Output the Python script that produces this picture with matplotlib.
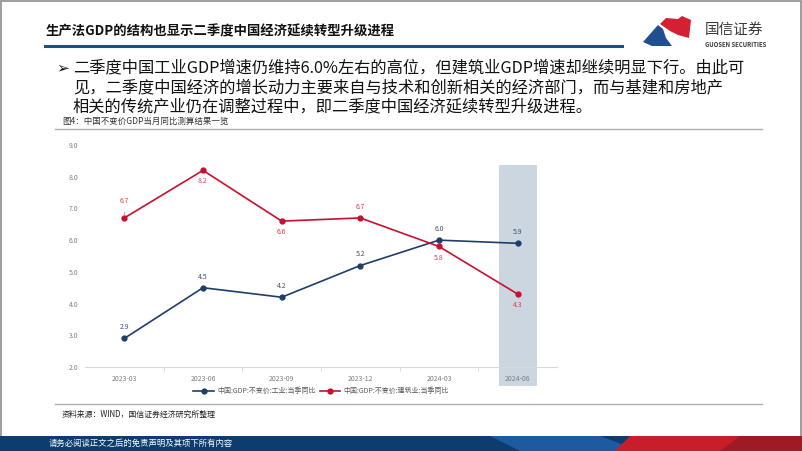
import matplotlib
matplotlib.use("Agg")
import matplotlib.pyplot as plt
from matplotlib.patches import Polygon, Rectangle
from matplotlib.lines import Line2D

plt.rcParams["font.family"] = ["Noto Sans CJK SC", "DejaVu Sans"]
plt.rcParams["axes.unicode_minus"] = False

W, H = 802, 451

periods = ["2023-03", "2023-06", "2023-09", "2023-12", "2024-03", "2024-06"]
industry = [2.9, 4.5, 4.2, 5.2, 6.0, 5.9]
construction = [6.7, 8.2, 6.6, 6.7, 5.8, 4.3]
# +1 label above the point, -1 below
construction_side = [1, -1, -1, 1, -1, -1]
yticks = [2.0, 3.0, 4.0, 5.0, 6.0, 7.0, 8.0, 9.0]

title = "生产法GDP的结构也显示二季度中国经济延续转型升级进程"
bullet_lines = [
    "二季度中国工业GDP增速仍维持6.0%左右的高位，但建筑业GDP增速却继续明显下行。由此可",
    "见，二季度中国经济的增长动力主要来自与技术和创新相关的经济部门，而与基建和房地产",
    "相关的传统产业仍在调整过程中，即二季度中国经济延续转型升级进程。",
]
caption = "图4：中国不变价GDP当月同比测算结果一览"
source = "资料来源：WIND，国信证券经济研究所整理"
footer = "请务必阅读正文之后的免责声明及其项下所有内容"
legend_labels = ["中国:GDP:不变价:工业:当季同比", "中国:GDP:不变价:建筑业:当季同比"]

BLUE = "#1f3d6b"
RED = "#c8102e"
NAVY = "#1f4e79"


def fx(x):
    return x / W


def fy(y):
    return 1 - y / H


fig = plt.figure(figsize=(W / 100, H / 100), dpi=100)
fig.patch.set_facecolor("white")

# page frame
fig.add_artist(Rectangle((0.001, 0.002), 0.998, 0.996, transform=fig.transFigure,
                         fill=False, edgecolor="#8c8c8c", linewidth=1.2))

# title + underline
fig.text(fx(46), fy(31), title, fontsize=9.6, weight="bold", color="#111111", va="center")
fig.add_artist(Line2D([fx(45), fx(622)], [fy(46), fy(46)], transform=fig.transFigure,
                      color=NAVY, linewidth=2.2))

# logo
blue_logo = [(643, 42), (658, 25), (663, 29), (666, 38), (672, 46), (652, 46)]
red_logo = [(660, 24), (666, 18), (678, 19), (682, 16), (691, 20), (689, 38), (678, 35), (670, 31)]
fig.add_artist(Polygon([(fx(a), fy(b)) for a, b in blue_logo], closed=True,
                       transform=fig.transFigure, facecolor="#1f4f8f", edgecolor="none"))
fig.add_artist(Polygon([(fx(a), fy(b)) for a, b in red_logo], closed=True,
                       transform=fig.transFigure, facecolor="#d42030", edgecolor="none"))
fig.text(fx(705), fy(30), "国信证券", fontsize=10.5, color="#3a3a3a", va="center")
fig.text(fx(705), fy(44.5), "GUOSEN SECURITIES", fontsize=4.3, weight="bold",
         color="#3a3a3a", va="center")

# bullet text
fig.text(fx(56), fy(68), "➢", fontsize=11, color="#111111", va="center",
         family=["DejaVu Sans"])
for i, line in enumerate(bullet_lines):
    fig.text(fx(73), fy(68 + 19.5 * i), line, fontsize=11.7, color="#111111", va="center")

# caption and rules
fig.text(fx(62), fy(121), caption, fontsize=6.1, color="#333333", va="center")
fig.add_artist(Line2D([fx(55), fx(762)], [fy(129), fy(129)], transform=fig.transFigure,
                      color="#b0b0b0", linewidth=1.0))
fig.add_artist(Line2D([fx(55), fx(762)], [fy(404), fy(404)], transform=fig.transFigure,
                      color="#b0b0b0", linewidth=1.0))
fig.text(fx(62), fy(414), source, fontsize=5.7, color="#222222", va="center")

# footer bar
fig.add_artist(Rectangle((0, 0), 1, fy(436), transform=fig.transFigure,
                         facecolor="#0d3c6e", edgecolor="none"))
stripe = [(490, 436), (600, 436), (640, 451), (520, 451)]
fig.add_artist(Polygon([(fx(a), fy(b)) for a, b in stripe], closed=True,
                       transform=fig.transFigure, facecolor="#1d5aa0", edgecolor="none"))
red_band = [(630, 436), (802, 436), (802, 451), (615, 451)]
fig.add_artist(Polygon([(fx(a), fy(b)) for a, b in red_band], closed=True,
                       transform=fig.transFigure, facecolor="#c81d2a", edgecolor="none"))
dark_red = [(740, 436), (802, 436), (802, 451), (720, 451)]
fig.add_artist(Polygon([(fx(a), fy(b)) for a, b in dark_red], closed=True,
                       transform=fig.transFigure, facecolor="#9e1a24", edgecolor="none"))
fig.text(fx(49), fy(443.5), footer, fontsize=6, color="white", va="center")

# chart
ax = fig.add_axes([fx(85), fy(367), (557 - 85) / W, (367 - 145) / H])
x = list(range(len(periods)))

ax.add_patch(Rectangle((4.76, 1.4), 0.48, 6.97, facecolor="#cbd6e1",
                       edgecolor="none", clip_on=False, zorder=0))

ax.plot(x, industry, color=BLUE, linewidth=1.2, marker="o", markersize=3.5,
        label=legend_labels[0], zorder=3)
ax.plot(x, construction, color=RED, linewidth=1.2, marker="o", markersize=3.5,
        label=legend_labels[1], zorder=3)

for xi, v in zip(x, industry):
    ax.annotate(f"{v:.1f}", (xi, v), xytext=(0, 8), textcoords="offset points",
                ha="center", va="center", fontsize=5, color="#44546a")
for xi, v, side in zip(x, construction, construction_side):
    if xi == 0:
        ax.annotate(f"{v:.1f}", (xi, v), xytext=(0, 12), textcoords="offset points",
                    ha="center", va="center", fontsize=5, color="#e0404f",
                    arrowprops=dict(arrowstyle="-", color="#808080", linewidth=0.5,
                                    shrinkA=3, shrinkB=2))
    else:
        ax.annotate(f"{v:.1f}", (xi, v), xytext=(0, 8 * side), textcoords="offset points",
                    ha="center", va="center", fontsize=5, color="#e0404f")

ax.set_xlim(-0.5, 5.5)
ax.set_ylim(2, 9)
ax.set_xticks(x, periods)
ax.set_xticks([i + 0.5 for i in range(5)], minor=True)
ax.set_yticks(yticks, [f"{t:.1f}" for t in yticks])
ax.tick_params(axis="x", which="major", length=0, pad=6, labelsize=5, labelcolor="#7f7f7f")
ax.tick_params(axis="x", which="minor", length=3, color="#d9d9d9", width=0.6)
ax.tick_params(axis="y", length=0, pad=5, labelsize=5, labelcolor="#7f7f7f")
for s in ["top", "right", "left"]:
    ax.spines[s].set_visible(False)
ax.spines["bottom"].set_color("#d9d9d9")
ax.spines["bottom"].set_linewidth(0.8)
ax.set_facecolor("none")

ax.legend(loc="center", bbox_to_anchor=(0.5, -0.11), ncol=2, frameon=False,
          fontsize=5, handlelength=3, columnspacing=0.6, handletextpad=0.4,
          labelcolor="#595959")

fig.savefig("out.png", dpi=100)
